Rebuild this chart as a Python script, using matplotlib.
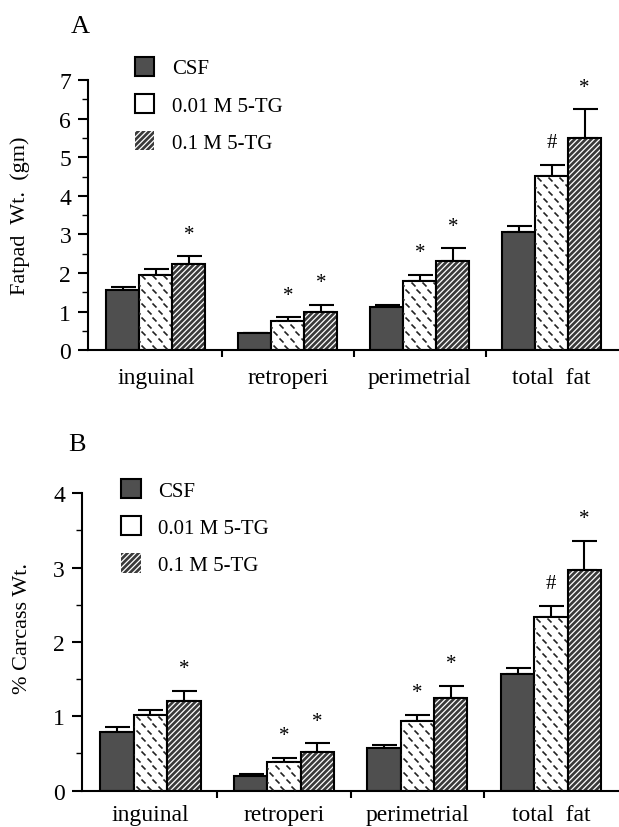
import numpy as np
import matplotlib.pyplot as plt
from matplotlib.path import Path

plt.rcParams['font.family'] = ['Liberation Serif', 'DejaVu Serif']
plt.rcParams['hatch.linewidth'] = 0.9

groups = ['inguinal', 'retroperi', 'perimetrial', 'total  fat']
series = ['CSF', '0.01 M 5-TG', '0.1 M 5-TG']

# panel A: fatpad weight (gm)
fat_csf = [1.56, 0.43, 1.11, 3.05]
fat_csf_err = [0.08, 0.02, 0.06, 0.17]
fat_lo = [1.94, 0.75, 1.80, 4.52]
fat_lo_err = [0.16, 0.10, 0.15, 0.28]
fat_hi = [2.23, 0.98, 2.32, 5.49]
fat_hi_err = [0.20, 0.19, 0.32, 0.76]
fat_marks = [['', '', '*'], ['', '*', '*'], ['', '*', '*'], ['', '#', '*']]

# panel B: % carcass weight
pct_csf = [0.79, 0.20, 0.57, 1.57]
pct_csf_err = [0.06, 0.02, 0.04, 0.08]
pct_lo = [1.02, 0.39, 0.94, 2.33]
pct_lo_err = [0.06, 0.05, 0.08, 0.16]
pct_hi = [1.21, 0.52, 1.25, 2.97]
pct_hi_err = [0.13, 0.12, 0.16, 0.39]
pct_marks = fat_marks


def dash_texture(ax, fig, bars):
    # short "\" dashes in a brick layout, clipped to each white bar
    seg = Path([(-1, 1), (1, -1)], [Path.MOVETO, Path.LINETO])
    pos = ax.get_position()
    y0, y1 = ax.get_ylim()
    x0, x1 = ax.get_xlim()
    px_y = pos.height * fig.get_figheight() * fig.dpi / (y1 - y0)
    px_x = pos.width * fig.get_figwidth() * fig.dpi / (x1 - x0)
    hstep, vstep = 11.0, 7.0
    for b in bars:
        bx, bw, bh = b.get_x(), b.get_width(), b.get_height()
        xs, ys = [], []
        nrow = int(bh * px_y / vstep) + 2
        ncol = int(bw * px_x / hstep) + 2
        for r in range(nrow):
            for c in range(-1, ncol):
                xp = c * hstep + (r % 2) * hstep / 2 + 4
                yp = r * vstep + 3
                xs.append(bx + xp / px_x)
                ys.append(yp / px_y)
        ln, = ax.plot(xs, ys, linestyle='none', marker=seg, markersize=2.9,
                      markeredgewidth=1.2, color='#222222', zorder=3)
        ln.set_clip_path(b)


def panel(ax, fig, csf, csf_e, lo, lo_e, hi, hi_e, marks, ymax, ylabel, xpad, lab_xy):
    x = np.arange(len(groups))
    w = 0.25
    vals = [csf, lo, hi]
    errs = [csf_e, lo_e, hi_e]
    ax.set_xlim(-0.515, 3.51)
    ax.set_ylim(0, ymax)
    b0 = ax.bar(x - w, csf, w, color='#4f4f4f', edgecolor='black', linewidth=1.5, zorder=2)
    b1 = ax.bar(x, lo, w, color='white', edgecolor='black', linewidth=1.5, zorder=2)
    b2 = ax.bar(x + w, hi, w, color='#3a3a3a', edgecolor='white', hatch='//////', linewidth=0, zorder=2)
    ax.bar(x + w, hi, w, fill=False, edgecolor='black', linewidth=1.5, zorder=4)
    dash_texture(ax, fig, b1)
    for k in range(3):
        ax.errorbar(x + (k - 1) * w, vals[k], yerr=[np.zeros(4), errs[k]], fmt='none',
                    ecolor='black', elinewidth=1.5, capsize=9, capthick=1.5, zorder=1)
        for i in range(4):
            m = marks[i][k]
            if m:
                ax.annotate(m, (x[i] + (k - 1) * w, vals[k][i] + errs[k][i]),
                            xytext=(0, 9), textcoords='offset points',
                            ha='center', va='bottom', fontsize=15)
    ax.spines['top'].set_visible(False)
    ax.spines['right'].set_visible(False)
    ax.spines['left'].set_linewidth(1.5)
    ax.spines['bottom'].set_linewidth(1.5)
    ax.set_yticks(np.arange(0, ymax + 1))
    ax.set_yticks(np.arange(0, ymax, 0.5), minor=True)
    ax.set_xticks([0.5, 1.5, 2.5], minor=True)
    ax.set_xticks(x)
    ax.set_xticklabels(groups)
    ax.tick_params(axis='x', which='major', length=0, pad=xpad, labelsize=17)
    ax.tick_params(axis='x', which='minor', length=5, width=1.5, direction='out')
    ax.tick_params(axis='y', which='major', length=7, width=1.5, labelsize=17, pad=5)
    ax.tick_params(axis='y', which='minor', length=4, width=1.0)
    ax.set_ylabel(ylabel, fontsize=16)
    ax.yaxis.set_label_coords(*lab_xy)
    return b0, b1, b2


fig = plt.figure(figsize=(6.19, 8.28), dpi=100)
axA = fig.add_axes([0.142, 0.576, 0.858, 0.326])
axB = fig.add_axes([0.132, 0.044, 0.868, 0.359])

hA = panel(axA, fig, fat_csf, fat_csf_err, fat_lo, fat_lo_err, fat_hi, fat_hi_err,
           fat_marks, 7, 'Fatpad  Wt.  (gm)', 12, (-0.109, 0.5))
hB = panel(axB, fig, pct_csf, pct_csf_err, pct_lo, pct_lo_err, pct_hi, pct_hi_err,
           pct_marks, 4, '% Carcass Wt.', 10, (-0.093, 0.55))

for ax, h, anchor in [(axA, hA, (0.187, 0.953)), (axB, hB, (0.165, 0.443))]:
    ax.legend(h, series, loc='upper left', bbox_to_anchor=anchor,
              bbox_transform=fig.transFigure, frameon=False, fontsize=15,
              handlelength=0.95, handleheight=1.05, labelspacing=0.74, handletextpad=0.85)

fig.text(80 / 619, 1 - 27 / 828, 'A', fontsize=19, ha='center', va='center')
fig.text(77 / 619, 1 - 445 / 828, 'B', fontsize=19, ha='center', va='center')

fig.savefig('out.png', dpi=100)
